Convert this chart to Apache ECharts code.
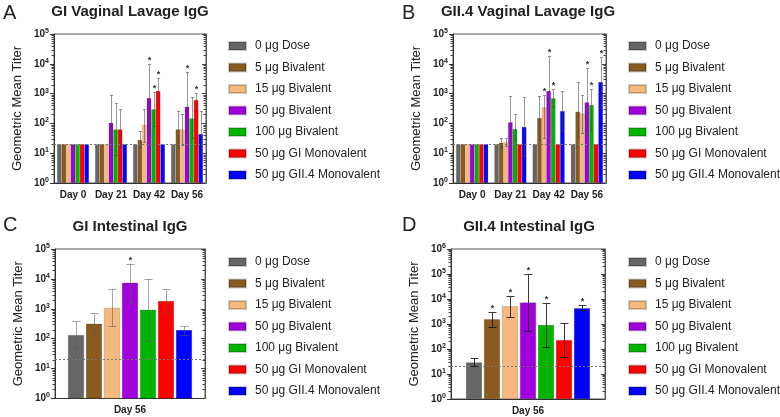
<!DOCTYPE html>
<html><head><meta charset="utf-8">
<script src="https://cdn.jsdelivr.net/npm/echarts@6/dist/echarts.min.js"></script>
<style>html,body{margin:0;padding:0;background:#fff}#c{width:780px;height:417px}</style>
</head><body><div id="c"></div>
<script>
// ---------- categories ----------
const groupNames = ['0 μg Dose','5 μg Bivalent','15 μg Bivalent','50 μg Bivalent','100 μg Bivalent','50 μg GI Monovalent','50 μg GII.4 Monovalent'];
const vaginalDays = ['Day 0','Day 21','Day 42','Day 56'];
const intestinalDays = ['Day 56'];
const panelTitles = ['GI Vaginal Lavage IgG','GII.4 Vaginal Lavage IgG','GI Intestinal IgG','GII.4 Intestinal IgG'];
const panelLetters = ['A','B','C','D'];
const lodValue = 20;

// ---------- Panel A: GI vaginal lavage (rows = groups, cols = days) ----------
const giVagMean  = [[20,20,20,20],[20,20,28,63],[20,20,89,63],[20,105,710,363],[20,63,300,148],[20,63,1230,610],[20,20,20,44]];
const giVagUpper = [[20,20,20,20],[20,20,55,268],[20,20,300,208],[20,900,9800,5400],[20,470,1150,750],[20,300,3250,1070],[20,20,20,268]];
const giVagLower = [[20,20,20,20],[20,20,16,15],[20,20,24,19],[20,15,52,28],[20,9,82,32],[20,16,470,350],[20,20,20,10]];
const giVagStar  = [[0,0,0,0],[0,0,0,0],[0,0,0,0],[0,0,1,1],[0,0,1,0],[0,0,1,1],[0,0,0,0]];

// ---------- Panel B: GII.4 vaginal lavage ----------
const gii4VagMean  = [[20,20,20,20],[20,22.5,152,247],[20,23,347,218],[20,109,1230,510],[20,65,700,415],[20,20,20,20],[20,76,260,2450]];
const gii4VagUpper = [[20,20,20,20],[20,32,830,2500],[20,32,900,900],[20,830,18000,7400],[20,208,1390,1390],[20,20,20,20],[20,790,1250,17400]];
const gii4VagLower = [[20,20,20,20],[20,16.5,28,36],[20,17,32,49],[20,20,150,40],[20,28,363,60],[20,20,20,20],[20,8,55,300]];
const gii4VagStar  = [[0,0,0,0],[0,0,0,0],[0,0,1,0],[0,0,1,1],[0,0,1,1],[0,0,0,0],[0,0,0,1]];

// ---------- Panel C: GI intestinal (Day 56) ----------
const giIntMean  = [[132],[316],[1070],[7400],[930],[1820],[195]];
const giIntUpper = [[400],[700],[4600],[31000],[9700],[4600],[270]];
const giIntLower = [[48],[142],[257],[1730],[83],[720],[132]];
const giIntStar  = [[0],[0],[0],[1],[0],[0],[0]];

// ---------- Panel D: GII.4 intestinal (Day 56) ----------
const gii4IntMean  = [[29],[1550],[5100],[7200],[910],[228],[4270]];
const gii4IntUpper = [[44],[2950],[13800],[102000],[6800],[1130],[6000]];
const gii4IntLower = [[21],[780],[1910],[540],[123],[47],[3640]];
const gii4IntStar  = [[0],[1],[1],[1],[1],[0],[1]];

// ---------- styling ----------
const groupColors = ['#666666','#8B5A1E','#F5B97F','#A000DC','#00B400','#FF0000','#0000FF'];
const FONT = "'Liberation Sans', Arial, Helvetica, sans-serif";

const panels = [
  {cats: vaginalDays, mean: giVagMean, upper: giVagUpper, lower: giVagLower, star: giVagStar, yMax: 1e5,
   grid: {left:54, top:34, width:152, height:149}, titleX:130, titleY:4, letterX:3, letterY:14, legendX:228, legendY:40,
   layout: {catGap:0.16}, capW:3, errColor:'rgba(70,70,70,0.55)', border:'rgba(0,0,0,0.2)'},
  {cats: vaginalDays, mean: gii4VagMean, upper: gii4VagUpper, lower: gii4VagLower, star: gii4VagStar, yMax: 1e5,
   grid: {left:453, top:34, width:153, height:149}, titleX:528, titleY:4, letterX:402, letterY:14, legendX:628, legendY:40,
   layout: {catGap:0.16}, capW:3, errColor:'rgba(70,70,70,0.55)', border:'rgba(0,0,0,0.2)'},
  {cats: intestinalDays, mean: giIntMean, upper: giIntUpper, lower: giIntLower, star: giIntStar, yMax: 1e5,
   grid: {left:55, top:249, width:150, height:149.5}, titleX:130, titleY:219, letterX:3, letterY:226, legendX:228, legendY:256,
   layout: {barWidth:16, barGap:0.125}, capW:8, errColor:'rgba(90,90,90,0.55)', border:'rgba(0,0,0,0.3)'},
  {cats: intestinalDays, mean: gii4IntMean, upper: gii4IntUpper, lower: gii4IntLower, star: gii4IntStar, yMax: 1e6,
   grid: {left:451, top:249, width:154, height:150}, titleX:529, titleY:219, letterX:402, letterY:226, legendX:628, legendY:256,
   layout: {barWidth:16, barGap:0.125}, capW:8, errColor:'rgba(20,20,20,0.85)', border:'rgba(0,0,0,0.3)'}
];

function errRender(p) {
  return function (params, api) {
    const cat = api.value(0), up = api.value(1), lo = api.value(2), g = api.value(4), star = api.value(5);
    const band = api.size([1, 0])[0];
    const pitch = p.layout.barWidth ? p.layout.barWidth * (1 + p.layout.barGap) : band * (1 - p.layout.catGap) / 7;
    const cu = api.coord([cat, up]);
    const x = Math.round(cu[0] + (g - 3) * pitch) + 0.5;
    const yUp = Math.round(cu[1]) + 0.5;
    const yLo = Math.round(api.coord([cat, lo])[1]) + 0.5;
    const children = [];
    const st = {stroke: p.errColor, lineWidth: 1};
    if (yLo - yUp > 1) {
      const h = p.capW / 2;
      children.push({type:'line', shape:{x1:x, y1:yUp, x2:x, y2:yLo}, style:st});
      children.push({type:'line', shape:{x1:x-h, y1:yUp, x2:x+h, y2:yUp}, style:st});
      children.push({type:'line', shape:{x1:x-h, y1:yLo, x2:x+h, y2:yLo}, style:st});
    }
    if (star) {
      children.push({type:'text', style:{text:'*', x:x, y:yUp + 1, align:'center', verticalAlign:'bottom',
        font:'bold 9px ' + FONT, fill:'#333'}});
    }
    return {type:'group', children};
  };
}

function minorRender(params, api) {
  const y = Math.round(api.coord([0, api.value(1)])[1]) + 0.5;
  const cs = params.coordSys;
  const st = {stroke:'#444', lineWidth:1};
  return {type:'group', children:[
    {type:'line', shape:{x1:cs.x - 2.5, y1:y, x2:cs.x, y2:y}, style:st},
    {type:'line', shape:{x1:cs.x + cs.width, y1:y, x2:cs.x + cs.width - 2.5, y2:y}, style:st}
  ]};
}

const option = {
  animation: false,
  grid: [], xAxis: [], yAxis: [], series: [], legend: [], title: [], graphic: []
};

panels.forEach((p, pi) => {
  option.grid.push(Object.assign({show:true, borderColor:'#555', borderWidth:1, backgroundColor:'transparent'}, p.grid));
  option.xAxis.push({type:'category', gridIndex:pi, data:p.cats,
    axisLine:{show:true, lineStyle:{color:'#333'}}, axisTick:{show:false},
    axisLabel:{interval:0, fontSize:10, fontWeight:'bold', color:'#222', fontFamily:FONT, margin:7}});
  const decades = Math.round(Math.log10(p.yMax));
  option.yAxis.push({type:'log', gridIndex:pi, min:1, max:p.yMax, logBase:10, splitNumber:decades,
    name:'Geometric Mean Titer', nameLocation:'middle', nameGap:30,
    nameTextStyle:{fontSize:13, color:'#222', fontFamily:FONT},
    axisLine:{show:true, lineStyle:{color:'#333'}},
    axisTick:{show:true, inside:false, length:4, lineStyle:{color:'#333'}},
    splitLine:{show:false},
    axisLabel:{margin:5, color:'#222', fontFamily:FONT,
      formatter: v => '{b|10}{s|' + Math.round(Math.log10(v)) + '}',
      rich:{b:{fontSize:10, fontWeight:'bold', fontFamily:FONT, color:'#222'},
            s:{fontSize:7, fontWeight:'bold', fontFamily:FONT, color:'#222', padding:[0,0,6,0]}}}});
  option.yAxis.push({type:'log', gridIndex:pi, min:1, max:p.yMax, logBase:10, splitNumber:decades, position:'right',
    axisLine:{show:true, lineStyle:{color:'#555'}},
    axisTick:{show:true, inside:true, length:4, lineStyle:{color:'#444'}},
    axisLabel:{show:false}, splitLine:{show:false}});
  const yi = pi * 2;

  groupNames.forEach((name, g) => {
    const s = {type:'bar', name, xAxisIndex:pi, yAxisIndex:yi, data:p.mean[g],
      itemStyle:{color:groupColors[g], borderColor:p.border, borderWidth:0.5},
      barGap: p.layout.barWidth ? (p.layout.barGap * 100) + '%' : '0%', z:2};
    if (p.layout.barWidth) s.barWidth = p.layout.barWidth; else s.barCategoryGap = (p.layout.catGap * 100) + '%';
    if (g === 0) {
      s.markLine = {silent:true, symbol:['none','none'], label:{show:false},
        lineStyle:{type:[2,2], color:'#777', width:1}, data:[{yAxis: lodValue}], z:5};
    }
    option.series.push(s);
  });

  const errData = [];
  p.cats.forEach((c, ci) => {
    groupNames.forEach((n, g) => {
      errData.push([ci, p.upper[g][ci], p.lower[g][ci], p.mean[g][ci], g, p.star[g][ci]]);
    });
  });
  option.series.push({type:'custom', xAxisIndex:pi, yAxisIndex:yi, data:errData, renderItem:errRender(p),
    encode:{x:0, y:[1,2]}, z:10, silent:true});

  const minorData = [];
  for (let k = 0; k < decades; k++) for (let m = 2; m <= 9; m++) minorData.push([0, m * Math.pow(10, k)]);
  option.series.push({type:'custom', xAxisIndex:pi, yAxisIndex:yi, data:minorData, renderItem:minorRender,
    encode:{x:0, y:1}, z:10, silent:true});

  option.legend.push({orient:'vertical', left:p.legendX, top:p.legendY, padding:0, itemWidth:17, itemHeight:8,
    itemGap:9.5, icon:'rect', data:groupNames, selectedMode:false,
    textStyle:{fontSize:12, color:'#222', fontFamily:FONT, padding:[0,0,0,4]}});
  option.title.push({text:panelTitles[pi], left:p.titleX, top:p.titleY, textAlign:'center', padding:0,
    textStyle:{fontSize:15, fontWeight:'bold', color:'#222', fontFamily:FONT}});
  option.graphic.push({type:'text', left:p.letterX, top:p.letterY - 11,
    style:{text:panelLetters[pi], font:'20px ' + FONT, fill:'#222'}});
});

const chart = echarts.init(document.getElementById('c'), null, {renderer:'canvas'});
chart.setOption(option);
</script>
</body></html>
